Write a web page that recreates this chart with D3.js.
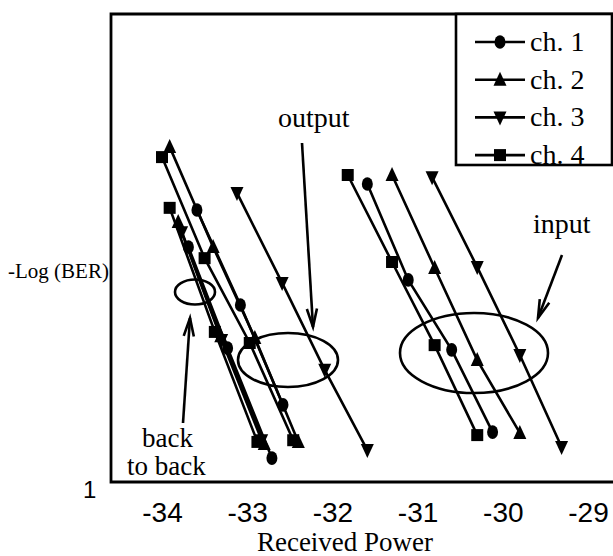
<!DOCTYPE html>
<html>
<head>
<meta charset="utf-8">
<script src="https://cdn.jsdelivr.net/npm/d3@7"></script>
<style>
  html, body { margin: 0; padding: 0; background: #fff; }
  svg { display: block; }
</style>
</head>
<body>
<svg id="chart" width="613" height="556"></svg>
<script>
// ---------- data (Received Power in dBm, -Log(BER)) ----------
const xTickValues = [-34, -33, -32, -31, -30, -29];
const yTickValues = [1];
const channels = ["ch. 1", "ch. 2", "ch. 3", "ch. 4"];

// back to back
const b2bCh1 = [[-33.69, 6.51], [-33.23, 4.14], [-32.71, 1.56]];
const b2bCh2 = [[-33.81, 7.10], [-33.31, 4.42], [-32.80, 1.89]];
const b2bCh3 = [[-33.77, 6.86], [-33.30, 4.33], [-32.83, 1.98]];
const b2bCh4 = [[-33.91, 7.43], [-33.38, 4.52], [-32.88, 1.94]];
// output
const outCh1 = [[-33.59, 7.38], [-33.08, 5.15], [-32.58, 2.81]];
const outCh2 = [[-33.91, 8.86], [-33.40, 6.51], [-32.91, 4.38], [-32.40, 1.94]];
const outCh3 = [[-33.12, 7.78], [-32.59, 5.67], [-32.09, 3.63], [-31.59, 1.75]];
const outCh4 = [[-34.00, 8.62], [-33.50, 6.25], [-32.97, 4.26], [-32.46, 1.98]];
// input
const inCh1 = [[-31.59, 7.99], [-31.11, 5.74], [-30.60, 4.10], [-30.12, 2.17]];
const inCh2 = [[-31.30, 8.20], [-30.80, 6.02], [-30.30, 3.86], [-29.80, 2.15]];
const inCh3 = [[-30.83, 8.15], [-30.30, 6.04], [-29.80, 3.98], [-29.31, 1.82]];
const inCh4 = [[-31.82, 8.20], [-31.30, 6.16], [-30.80, 4.21], [-30.30, 2.10]];

const curves = [
  { ch: 0, pts: b2bCh1 }, { ch: 1, pts: b2bCh2 }, { ch: 2, pts: b2bCh3 }, { ch: 3, pts: b2bCh4 },
  { ch: 0, pts: outCh1 }, { ch: 1, pts: outCh2 }, { ch: 2, pts: outCh3 }, { ch: 3, pts: outCh4 },
  { ch: 0, pts: inCh1 },  { ch: 1, pts: inCh2 },  { ch: 2, pts: inCh3 },  { ch: 3, pts: inCh4 }
];

// ---------- layout ----------
const frame = { left: 111, top: 14, bottom: 482, right: 640 };
const svg = d3.select("#chart");
const x = d3.scaleLinear().domain([-34, -29]).range([162, 588]);
const y = d3.scaleLinear().domain([1, 12]).range([frame.bottom, 13]);

const serif = "'Liberation Serif', 'Times New Roman', serif";
const sans = "'Liberation Sans', Arial, sans-serif";

// marker shapes
function markerPath(type) {
  if (type === 1) return "M0,-8L6.5,6L-6.5,6Z";
  if (type === 2) return "M-6.5,-6L6.5,-6L0,8Z";
  return "M-6,-6H6V6H-6Z";
}
function drawMarker(g, type, cx, cy) {
  if (type === 0) {
    g.append("ellipse").attr("cx", cx).attr("cy", cy).attr("rx", 5.5).attr("ry", 6.8).attr("fill", "#000");
  } else {
    g.append("path").attr("d", markerPath(type)).attr("transform", `translate(${cx},${cy})`).attr("fill", "#000");
  }
}

// ---------- curves ----------
const line = d3.line().x(d => x(d[0])).y(d => y(d[1]));
const gLines = svg.append("g");
curves.forEach(c => {
  gLines.append("path").attr("d", line(c.pts)).attr("fill", "none")
    .attr("stroke", "#000").attr("stroke-width", 2.6);
});
const gMarks = svg.append("g");
curves.forEach(c => {
  c.pts.forEach(p => drawMarker(gMarks, c.ch, x(p[0]), y(p[1])));
});

// ---------- frame ----------
svg.append("path")
  .attr("d", `M${frame.right},${frame.top}H${frame.left}V${frame.bottom}H${frame.right}`)
  .attr("fill", "none").attr("stroke", "#000").attr("stroke-width", 2.8);

// ---------- axes ----------
const xAxis = d3.axisBottom(x).tickValues(xTickValues).tickSize(0).tickPadding(0);
const gx = svg.append("g").attr("transform", `translate(0,${frame.bottom})`).call(xAxis);
gx.select(".domain").remove();
gx.selectAll("text").attr("font-family", sans).attr("font-size", 28).attr("fill", "#000")
  .attr("dy", null).attr("y", 40).text(d => (d < 0 ? "-" : "") + Math.abs(d));

const yAxis = d3.axisLeft(y).tickValues(yTickValues).tickSize(0).tickPadding(0);
const gy = svg.append("g").attr("transform", `translate(${frame.left},0)`).call(yAxis);
gy.select(".domain").remove();
gy.selectAll("text").attr("font-family", sans).attr("font-size", 24).attr("fill", "#000")
  .attr("text-anchor", "start").attr("x", -28).attr("dy", null).attr("y", 15);

svg.append("text").attr("x", 345).attr("y", 551).attr("text-anchor", "middle")
  .attr("font-family", serif).attr("font-size", 27).text("Received Power");
svg.append("text").attr("x", 8).attr("y", 278)
  .attr("font-family", serif).attr("font-size", 21).text("-Log (BER)");

// ---------- annotations ----------
function arrow(x1, y1, x2, y2) {
  const g = svg.append("g").attr("stroke", "#000").attr("stroke-width", 2.6).attr("fill", "none");
  g.append("line").attr("x1", x1).attr("y1", y1).attr("x2", x2).attr("y2", y2);
  const a = Math.atan2(y2 - y1, x2 - x1), L = 19, s = 0.27;
  g.append("path").attr("d",
    `M${x2 - L * Math.cos(a - s)},${y2 - L * Math.sin(a - s)}L${x2},${y2}L${x2 - L * Math.cos(a + s)},${y2 - L * Math.sin(a + s)}`);
}
function ring(cx, cy, rx, ry) {
  svg.append("ellipse").attr("cx", cx).attr("cy", cy).attr("rx", rx).attr("ry", ry)
    .attr("fill", "none").attr("stroke", "#000").attr("stroke-width", 2.6);
}
ring(195, 292, 20, 12.5);
ring(288, 360, 50, 27);
ring(474, 353, 74, 40);
arrow(302, 143, 313, 327);
arrow(183, 423, 190, 318);
arrow(562, 255, 538, 318);

svg.append("text").attr("x", 278).attr("y", 127).attr("font-family", serif).attr("font-size", 28).text("output");
svg.append("text").attr("x", 533).attr("y", 233).attr("font-family", serif).attr("font-size", 28).text("input");
svg.append("text").attr("x", 142).attr("y", 447).attr("font-family", serif).attr("font-size", 27).text("back");
svg.append("text").attr("x", 127).attr("y", 475).attr("font-family", serif).attr("font-size", 27).text("to back");

// ---------- legend ----------
const lg = svg.append("g");
lg.append("rect").attr("x", 456).attr("y", frame.top).attr("width", 156).attr("height", 151)
  .attr("fill", "#fff").attr("stroke", "#000").attr("stroke-width", 2.6);
channels.forEach((name, i) => {
  const cy = 42 + i * 37.7;
  lg.append("line").attr("x1", 475).attr("x2", 525).attr("y1", cy).attr("y2", cy)
    .attr("stroke", "#000").attr("stroke-width", 2.6);
  drawMarker(lg, i, 500, cy);
  lg.append("text").attr("x", 530).attr("y", cy + 9).attr("font-family", serif)
    .attr("font-size", 28).text(name);
});
</script>
</body>
</html>
